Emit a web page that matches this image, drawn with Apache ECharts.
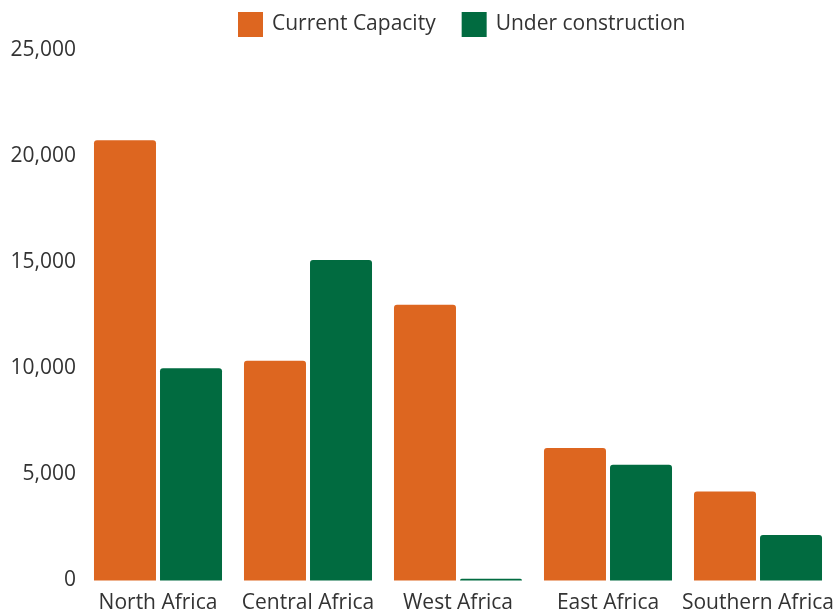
<!DOCTYPE html>
<html>
<head>
<meta charset="utf-8">
<script src="https://cdn.jsdelivr.net/npm/echarts@6/dist/echarts.min.js"></script>
<style>html,body{margin:0;padding:0;background:#fff}#c{width:833px;height:612px}</style>
</head>
<body>
<div id="c"></div>
<script>
const categories = ['North Africa', 'Central Africa', 'West Africa', 'East Africa', 'Southern Africa'];
const currentCapacity = [20750, 10350, 13000, 6250, 4200];
const underConstruction = [10000, 15100, 80, 5450, 2150];
const yTicks = [0, 5000, 10000, 15000, 20000, 25000];

const chart = echarts.init(document.getElementById('c'));
const font = '"Open Sans", "Noto Sans", sans-serif';
chart.setOption({
  animation: false,
  textStyle: { fontFamily: font },
  legend: {
    top: 7,
    left: 233,
    itemWidth: 25,
    itemHeight: 25,
    itemGap: 26,
    icon: 'rect',
    textStyle: { fontSize: 21, color: '#333', fontFamily: font, padding: [0, 0, 0, 4] },
    data: ['Current Capacity', 'Under construction']
  },
  grid: { left: 83, right: 0, top: 50, bottom: 31.5, containLabel: false, outerBoundsMode: 'none' },
  xAxis: {
    type: 'category',
    data: categories,
    axisLine: { show: false },
    axisTick: { show: false },
    axisLabel: { fontSize: 21, color: '#333', margin: 12, interval: 0, fontFamily: font }
  },
  yAxis: {
    type: 'value',
    min: yTicks[0],
    max: yTicks[yTicks.length - 1],
    interval: 5000,
    splitLine: { show: false },
    axisLine: { show: false },
    axisTick: { show: false },
    axisLabel: {
      fontSize: 21, color: '#333', margin: 7, fontFamily: font,
      formatter: v => v.toLocaleString('en-US')
    }
  },
  series: [
    {
      name: 'Current Capacity', type: 'bar', data: currentCapacity,
      barWidth: 62, barGap: '6.5%',
      itemStyle: { color: '#dd6620', borderRadius: [3, 3, 0, 0] }
    },
    {
      name: 'Under construction', type: 'bar', data: underConstruction,
      barWidth: 62,
      itemStyle: { color: '#016b40', borderRadius: [3, 3, 0, 0] }
    }
  ]
});
</script>
</body>
</html>
